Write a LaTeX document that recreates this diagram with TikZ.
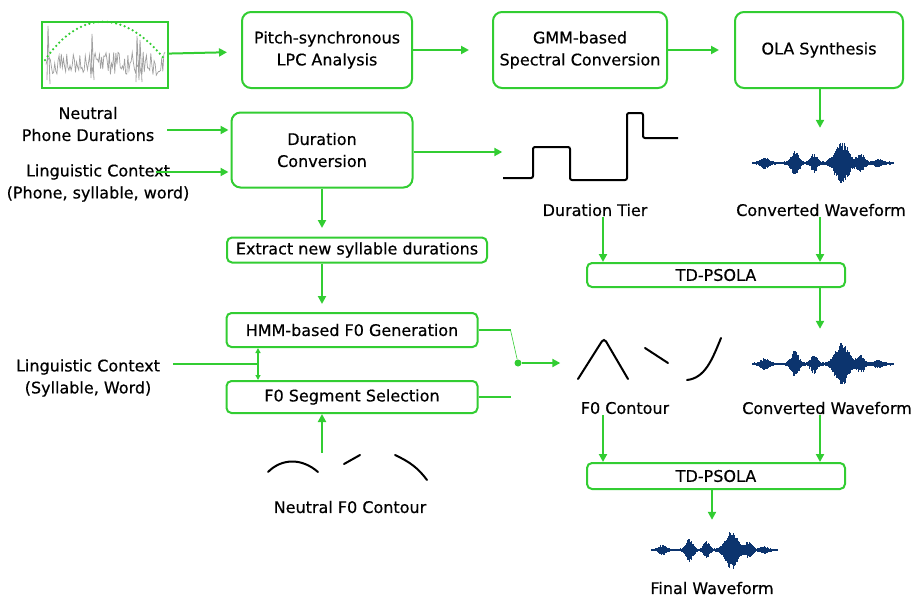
\documentclass[tikz,border=0pt]{standalone}
\usepackage{fontspec}
\setmainfont{DejaVu Sans}[FakeBold=0.5]
\usetikzlibrary{arrows.meta,calc}

\definecolor{grn}{RGB}{50,205,50}
\definecolor{wave}{RGB}{12,52,110}

\tikzset{
  declare function={wenv(\x)=1.5+5*exp(-((\x+55)/5)^2)+12*exp(-((\x+25)/5)^2)
    +9*exp(-((\x+6)/4)^2)+20*exp(-((\x-22)/9)^2)+8*exp(-((\x-41)/5)^2)
    +3*exp(-((\x-58)/5)^2);},
  box/.style={draw=grn,line width=2pt,rounded corners=9pt,align=center,inner sep=2pt},
  slim/.style={draw=grn,line width=2pt,rounded corners=5pt,align=center,inner sep=0pt},
  lbl/.style={align=center,inner sep=1pt},
  arr/.style={grn,line width=2pt,-{Triangle[length=8pt,width=8pt]}},
  arrs/.style={grn,line width=1.5pt,-{Triangle[length=5pt,width=5pt]}},
  lnk/.style={grn,line width=2pt},
  crv/.style={black,line width=2pt,line cap=round},
  speech/.pic={
    \draw[wave,line width=2pt] (-67,0) -- (73,0);
    \draw[wave,line width=1.1pt,ycomb] plot[domain=-67:73,samples=230] (\x,{wenv(\x)*(0.8+0.2*rand)});
    \draw[wave,line width=1.1pt,ycomb] plot[domain=-67:73,samples=230] (\x,{-wenv(\x)*(0.8+0.2*rand)});
  }
}

\begin{document}
\begin{tikzpicture}[x=1pt,y=-1pt,font=\fontsize{16}{22}\selectfont]
  \useasboundingbox (0,0) rectangle (917,597);
  \pgfmathsetseed{11}

  % spectrale Kette oben
  \node[draw=grn,line width=1.5pt,minimum width=126,minimum height=66,inner sep=0pt] (sig) at (105,55) {};
  \node[box,minimum width=170,minimum height=76] (lpc) at (327,50) {Pitch-synchronous\\LPC Analysis};
  \node[box,minimum width=174,minimum height=76] (gmm) at (580,50) {GMM-based\\Spectral Conversion};
  \node[box,minimum width=168,minimum height=76] (ola) at (819,50) {OLA Synthesis};

  % Eingangssignal
  \draw[gray!75,line width=0.7pt] plot[domain=46:165,samples=110] (\x,{64+12*rand});
  \draw[gray!75,line width=0.8pt] (47,80) -- (48,26) -- (50,84) (91,78) -- (92,34) -- (94,80)
    (136,82) -- (137,36) -- (139,80) -- (140,40) -- (142,82);
  \draw[grn,line width=2.5pt,line cap=round,dash pattern=on 0pt off 4.5pt] (45,60) .. controls (80,9) and (125,9) .. (165,60);

  \draw[arr,shorten >=14pt] (sig) -- (lpc);
  \draw[arr,shorten >=23pt] (lpc) -- (gmm);
  \draw[arr,shorten >=15pt] (gmm) -- (ola);

  % Dauer
  \node[lbl] (pd) at (88,124) {Neutral\\Phone Durations};
  \node[lbl] (lc1) at (98,183) {Linguistic Context\\(Phone, syllable, word)};
  \node[box,minimum width=181,minimum height=75] (dur) at (322,150) {Duration\\Conversion};
  \path ([xshift=12pt,yshift=-6pt]pd.east) coordinate (pdo);
  \path ([xshift=-35pt,yshift=11pt]lc1.east) coordinate (lco);
  \draw[arr,shorten >=2pt] (pdo) -- (pdo -| dur.west);
  \draw[arr,shorten >=2pt] (lco) -- (lco -| dur.west);

  \node[minimum width=175,minimum height=67] (tier) at (590,146) {};
  \draw[black,line width=2pt,rounded corners=2pt] (503,178) -- (533,178) -- (533,147) -- (570,147)
    -- (570,180) -- (627,180) -- (627,113) -- (643,113) -- (643,138) -- (678,138);
  \node[lbl] (dtl) at (595,210) {Duration Tier};
  \draw[arr] (dur.east |- 0,152) -- (tier.west |- 0,152);

  \node[minimum width=140,minimum height=46] (wv1) at (820,163) {};
  \pic at (wv1) {speech};
  \node[lbl] (cw1) at (821,210) {Converted Waveform};
  \draw[arr,shorten >=12pt] (ola.south -| wv1) -- (wv1.north);

  % TD-PSOLA 1
  \node[slim,minimum width=258,minimum height=24] (ps1) at (716,275) {TD-PSOLA};
  \draw[arr] ([xshift=8pt]dtl.south) -- ([xshift=8pt]dtl.south |- ps1.north);
  \draw[arr] (cw1.south -| wv1) -- (wv1 |- ps1.north);

  \node[minimum width=140,minimum height=46] (wv2) at (820,364) {};
  \pic at (wv2) {speech};
  \node[lbl] (cw2) at (827,408) {Converted Waveform};
  \draw[arr,shorten >=12pt] (ps1.south -| wv2) -- (wv2.north);

  % F0 links
  \draw[arr,shorten >=10pt] (dur.south) -- (dur.south |- 0,238);
  \node[slim,minimum width=260,minimum height=25] (ext) at (357,250) {Extract new syllable durations};
  \node[slim,minimum width=251,minimum height=34] (hmm) at (352,330) {HMM-based F0 Generation};
  \node[slim,minimum width=251,minimum height=32] (fss) at (352,397) {F0 Segment Selection};
  \draw[arr,shorten >=8pt] (dur.south |- ext.south) -- (dur.south |- hmm.north);

  \node[lbl] (lcs) at (88,378) {Linguistic Context\\(Syllable, Word)};
  \path ([xshift=12pt,yshift=14pt]lcs.east) coordinate (lcso);
  \coordinate (jn) at (258,364);
  \draw[lnk] (lcso) -- (jn);
  \draw[arrs] (jn) -- (jn |- hmm.south);
  \draw[arrs] (jn) -- (jn |- fss.north);

  \node[minimum width=160,minimum height=30] (nfc) at (349,468) {};
  \draw[crv] (268,472) .. controls (282,458) and (302,458) .. (318,472);
  \draw[crv] (344,464) -- (360,455);
  \draw[crv] (395,455) .. controls (410,462) and (418,468) .. (427,480);
  \node[lbl] (nfl) at (350,507) {Neutral F0 Contour};
  \draw[arr] (nfc.north -| dur.south) -- (dur.south |- fss.south);

  \node[circle,fill=grn,inner sep=0pt,minimum size=7pt] (dot) at (518,363) {};
  \draw[lnk] (hmm.east) -- ++(32,0) coordinate (hk);
  \draw[grn,line width=0.6pt] (hk) -- (dot);
  \draw[lnk] (fss.east) -- ++(32,0);

  \node[minimum width=145,minimum height=45] (f0c) at (650,359) {};
  \draw[crv,rounded corners=4pt] (578,379) -- (604,338) -- (628,379);
  \draw[crv] (645,348) -- (668,363);
  \draw[crv] (687,380) .. controls (705,378) and (712,360) .. (721,338);
  \node[lbl] (f0l) at (625,408) {F0 Contour};
  \draw[arr,shorten >=17pt] (dot) -- (dot -| f0c.west);

  % TD-PSOLA 2
  \node[slim,minimum width=258,minimum height=26] (ps2) at (716,476) {TD-PSOLA};
  \draw[arr] (f0l.south -| 603,0) -- (603,0 |- ps2.north);
  \draw[arr] (cw2.south -| wv2) -- (wv2 |- ps2.north);

  \node[minimum width=126,minimum height=40] (wv3) at (712,550) {};
  \pic[scale=0.9] at (wv3) {speech};
  \node[lbl] (fwl) at (712,588) {Final Waveform};
  \draw[arr,shorten >=10pt] (wv3 |- ps2.south) -- (wv3.north);
\end{tikzpicture}
\end{document}
